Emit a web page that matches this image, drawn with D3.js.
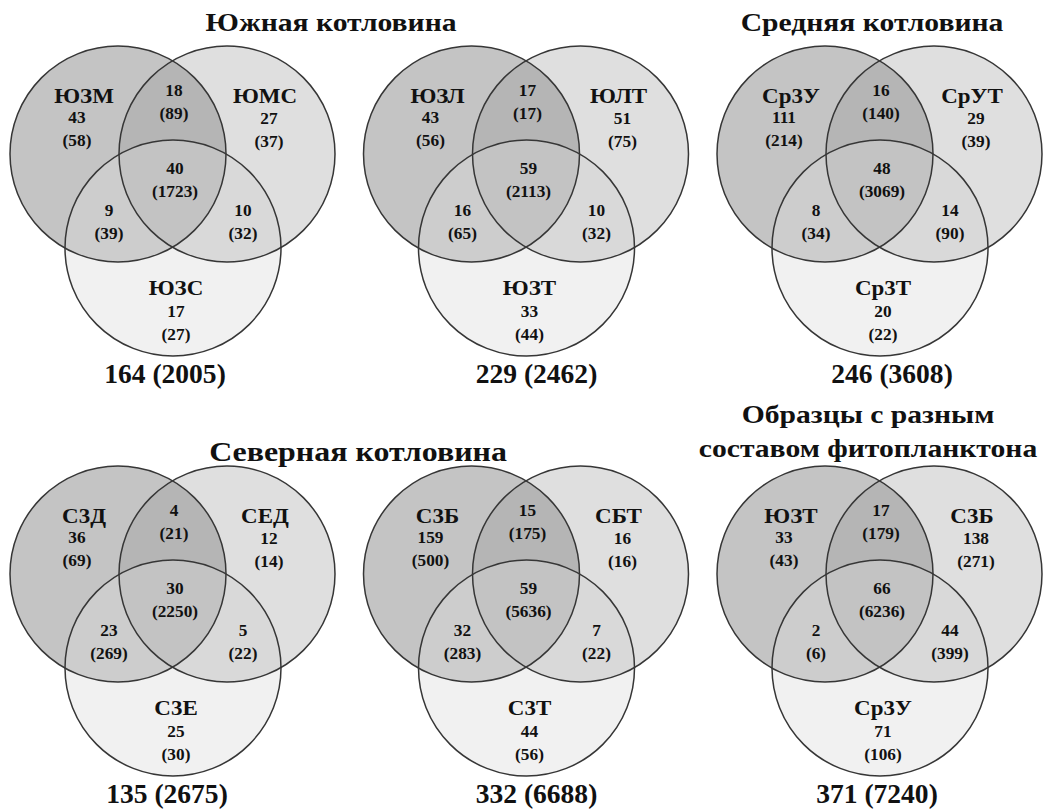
<!DOCTYPE html>
<html lang="ru">
<head>
<meta charset="utf-8">
<script src="https://cdn.jsdelivr.net/npm/d3@7/dist/d3.min.js"></script>
<style>
  html, body { margin: 0; padding: 0; background: #ffffff; }
  svg text { font-family: "Liberation Serif", "Times New Roman", serif; font-weight: bold; fill: #111; }
</style>
</head>
<body>
<svg id="chart" width="1043" height="809"></svg>
<script>
// Three-set Venn diagrams of shared OTUs between samples.
// Region order in every panel: A only, A∩B, B only, A∩B∩C, A∩C, B∩C, C only.
const regionKeys = ["a", "ab", "b", "abc", "ac", "bc", "c"];

const setNames = [
  ["ЮЗМ", "ЮМС", "ЮЗС"],
  ["ЮЗЛ", "ЮЛТ", "ЮЗТ"],
  ["Ср3У", "СрУТ", "Ср3Т"],
  ["С3Д", "СЕД", "С3Е"],
  ["С3Б", "СБТ", "С3Т"],
  ["ЮЗТ", "С3Б", "Ср3У"]
];

const otuCounts = [
  [43, 18, 27, 40, 9, 10, 17],
  [43, 17, 51, 59, 16, 10, 33],
  [111, 16, 29, 48, 8, 14, 20],
  [36, 4, 12, 30, 23, 5, 25],
  [159, 15, 16, 59, 32, 7, 44],
  [33, 17, 138, 66, 2, 44, 71]
];

const readCounts = [
  [58, 89, 37, 1723, 39, 32, 27],
  [56, 17, 75, 2113, 65, 32, 44],
  [214, 140, 39, 3069, 34, 90, 22],
  [69, 21, 14, 2250, 269, 22, 30],
  [500, 175, 16, 5636, 283, 22, 56],
  [43, 179, 271, 6236, 6, 399, 106]
];

const totalOtus  = [164, 229, 246, 135, 332, 371];
const totalReads = [2005, 2462, 3608, 2675, 6688, 7240];

const groupTitles = [
  ["Южная котловина"],
  ["Средняя котловина"],
  ["Северная котловина"],
  ["Образцы с разным", "составом фитопланктона"]
];

// ---- layout & style ----
const svg = d3.select("#chart");
const col = d3.scalePoint().domain([0, 1, 2]).range([173, 880]);
const row = d3.scalePoint().domain([0, 1]).range([154, 574]);

const R = 108;
const circleOffsets = { a: [-55, 0], b: [54, 0], c: [0, 94] };

const regionFill = {
  a: "#c4c4c4", b: "#dfdfdf", c: "#f1f1f1",
  ab: "#b5b5b5", ac: "#cdcdcd", bc: "#d9d9d9", abc: "#c3c3c3"
};

// label anchors relative to the panel reference point (x offset, baseline of first line)
const nameAnchor = { a: [-89, -51], b: [92, -51], c: [3, 141] };
const countAnchor = {
  a: [-96, -31], ab: [1, -58], b: [96, -30],
  abc: [2, 20], ac: [-64, 62], bc: [70, 62], c: [3, 163]
};
const lineStep = 23;
const totalShift = [-8, 10, 12, -6, 10, -3];

const titleLayout = [
  { x: 331, y: 31, size: 26 },
  { x: 872, y: 31, size: 26 },
  { x: 358, y: 461, size: 28 },
  { x: 868, y: 423, size: 26, lineGap: 34 }
];

// text drawn with a slight horizontal widening
function wideText(sel, x, y, size, sx, str) {
  return sel.append("text")
    .attr("transform", `translate(${x},${y}) scale(${sx},1)`)
    .attr("text-anchor", "middle")
    .attr("font-size", size)
    .text(str);
}

const defs = svg.append("defs");

setNames.forEach((names, i) => {
  const cx = col(i % 3);
  const cy = row(Math.floor(i / 3));
  const pos = k => [cx + circleOffsets[k][0], cy + circleOffsets[k][1]];

  ["a", "b", "c"].forEach(k => {
    defs.append("clipPath").attr("id", `clip-${i}-${k}`)
      .append("circle").attr("cx", pos(k)[0]).attr("cy", pos(k)[1]).attr("r", R);
  });

  const g = svg.append("g").attr("class", "venn");

  // base fills of each set
  ["a", "b", "c"].forEach(k => {
    g.append("circle").attr("cx", pos(k)[0]).attr("cy", pos(k)[1]).attr("r", R)
      .attr("fill", regionFill[k]);
  });
  // pairwise overlaps
  g.append("circle").attr("cx", pos("b")[0]).attr("cy", pos("b")[1]).attr("r", R)
    .attr("clip-path", `url(#clip-${i}-a)`).attr("fill", regionFill.ab);
  g.append("circle").attr("cx", pos("c")[0]).attr("cy", pos("c")[1]).attr("r", R)
    .attr("clip-path", `url(#clip-${i}-a)`).attr("fill", regionFill.ac);
  g.append("circle").attr("cx", pos("c")[0]).attr("cy", pos("c")[1]).attr("r", R)
    .attr("clip-path", `url(#clip-${i}-b)`).attr("fill", regionFill.bc);
  // triple overlap
  g.append("g").attr("clip-path", `url(#clip-${i}-a)`)
    .append("circle").attr("cx", pos("c")[0]).attr("cy", pos("c")[1]).attr("r", R)
    .attr("clip-path", `url(#clip-${i}-b)`).attr("fill", regionFill.abc);

  // outlines
  g.selectAll("circle.outline").data(["a", "b", "c"]).join("circle")
    .attr("class", "outline")
    .attr("cx", k => pos(k)[0]).attr("cy", k => pos(k)[1]).attr("r", R)
    .attr("fill", "none").attr("stroke", "#363636").attr("stroke-width", 1.5);

  // set names
  ["a", "b", "c"].forEach((k, j) => {
    wideText(g, cx + nameAnchor[k][0], cy + nameAnchor[k][1], 20, 1.15, names[j]);
  });

  // region counts: OTUs and (reads)
  regionKeys.forEach((k, j) => {
    const x = cx + countAnchor[k][0], y = cy + countAnchor[k][1];
    wideText(g, x, y, 16, 1.08, otuCounts[i][j]);
    wideText(g, x, y + lineStep, 16, 1.08, `(${readCounts[i][j]})`);
  });

  // panel total
  wideText(g, cx + totalShift[i], cy + 229, 27, 1.02, `${totalOtus[i]} (${totalReads[i]})`);
});

// group titles
groupTitles.forEach((lines, t) => {
  const L = titleLayout[t];
  lines.forEach((line, j) => {
    wideText(svg, L.x, L.y + j * (L.lineGap || 0), L.size, 1.14, line).attr("class", "title");
  });
});
</script>
</body>
</html>
